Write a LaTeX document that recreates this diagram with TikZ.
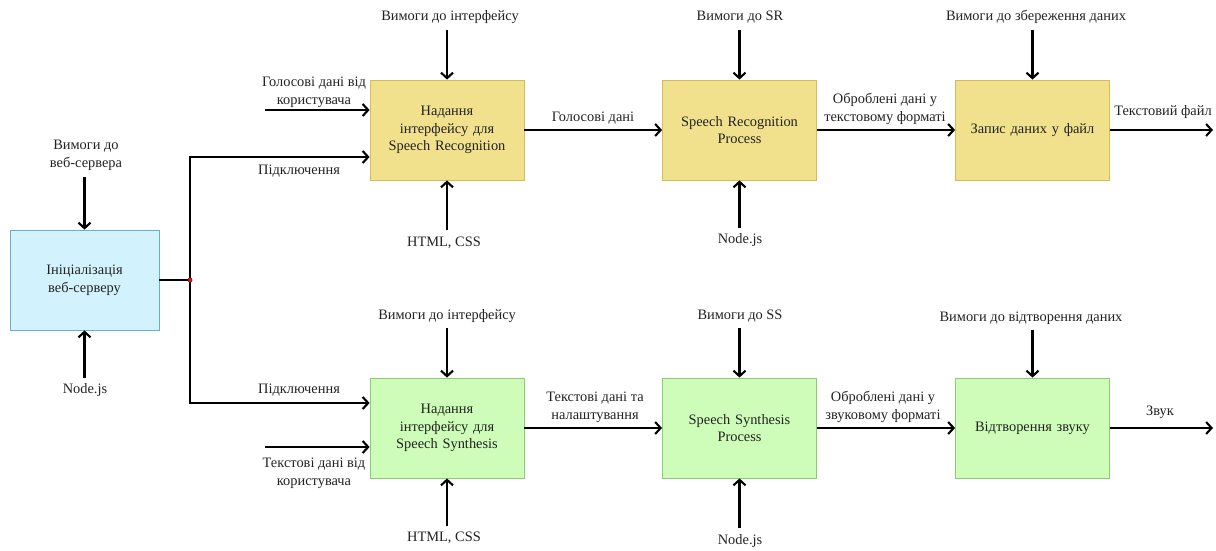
\documentclass[tikz,border=0pt]{standalone}
\usepackage{fontspec}
\setmainfont{Liberation Serif}
\usetikzlibrary{arrows.meta,calc}
\definecolor{yfill}{HTML}{F2E18C}
\definecolor{ydraw}{HTML}{D4BC5E}
\definecolor{gfill}{HTML}{CDFDB8}
\definecolor{gdraw}{HTML}{8CCB74}
\definecolor{cfill}{HTML}{D2F3FD}
\definecolor{cdraw}{HTML}{67AFCB}
\definecolor{txt}{HTML}{222222}
\definecolor{dotred}{HTML}{B02020}
\begin{document}
\begin{tikzpicture}[x=1pt,y=-1pt,
  every node/.style={font=\fontsize{14.4}{17.8}\selectfont, text=txt},
  box/.style={draw, line width=0.8pt, minimum width=154pt, minimum height=100pt, align=center, inner sep=2pt, text width=148pt},
  ybox/.style={box, fill=yfill, draw=ydraw},
  gbox/.style={box, fill=gfill, draw=gdraw},
  cbox/.style={box, fill=cfill, draw=cdraw, minimum width=149pt, text width=143pt},
  lbl/.style={align=center, inner sep=0pt},
  arr/.style={line width=2.1pt, -{Straight Barb[length=5.5pt,width=12pt,line width=2.1pt]}},
  ln/.style={line width=2.1pt}]
\useasboundingbox (0,0) rectangle (1216,550);

% boxes
\node[cbox] (init) at (84.5,280) {Ініціалізація\\веб-серверу};
\node[ybox] (sri) at (447,130) {Надання\\інтерфейсу для\\Speech Recognition};
\node[ybox] (srp) at (739.5,130) {Speech Recognition\\Process};
\node[ybox] (rec) at (1032.5,130) {Запис даних у файл};
\node[gbox] (ssi) at (447,428) {Надання\\інтерфейсу для\\Speech Synthesis};
\node[gbox] (ssp) at (739.5,428) {Speech Synthesis\\Process};
\node[gbox] (play) at (1032.5,428) {Відтворення звуку};

% init inputs
\node[lbl] (initc) at (86,155) {Вимоги до\\веб-сервера};
\coordinate (initcE) at (84.5,177);
\draw[arr] (initcE) -- (init.north);
\node[lbl] (initm) at (85,390) {Node.js};
\coordinate (initmS) at (84.5,378);
\draw[arr] (initmS) -- (init.south);

% junction
\coordinate (j) at (190,280);
\coordinate (jt) at (190,157);
\coordinate (jb) at (190,403);
\draw[ln] (init.east) -- (j);
\draw[arr] (j) -- (jt) -- (sri.west |- jt);
\draw[arr] (j) -- (jb) -- (ssi.west |- jb);
\fill[dotred] (j) circle (2.5pt);
\node[lbl] (conn1) at (299,171) {Підключення};
\node[lbl] (conn2) at (299,390) {Підключення};

% user inputs
\node[lbl] (uv) at (314,92) {Голосові дані від\\користувача};
\coordinate (uvS) at (265,110);
\draw[arr] (uvS) -- (sri.west |- uvS);
\node[lbl] (ut) at (314,473) {Текстові дані від\\користувача};
\coordinate (utS) at (265,447);
\draw[arr] (utS) -- (ssi.west |- utS);

% top row controls / mechanisms
\node[lbl] (c1) at (450,17) {Вимоги до інтерфейсу};
\coordinate (c1S) at (447,30);
\draw[arr] (c1S) -- (sri.north);
\node[lbl] (m1) at (444,243) {HTML, CSS};
\coordinate (m1S) at (447,230);
\draw[arr] (m1S) -- (sri.south);
\node[lbl] (c2) at (740,17) {Вимоги до SR};
\coordinate (c2S) at (739.5,30);
\draw[arr] (c2S) -- (srp.north);
\node[lbl] (m2) at (740,240) {Node.js};
\coordinate (m2S) at (739.5,228);
\draw[arr] (m2S) -- (srp.south);
\node[lbl] (c3) at (1036,17) {Вимоги до збереження даних};
\coordinate (c3S) at (1032.5,30);
\draw[arr] (c3S) -- (rec.north);

% top row flows
\draw[arr] (sri.east) -- (srp.west);
\node[lbl] (f1) at (593,118) {Голосові дані};
\draw[arr] (srp.east) -- (rec.west);
\node[lbl] (f2) at (885,109) {Оброблені дані у\\текстовому форматі};
\coordinate (outT) at (1213,130);
\draw[arr] (rec.east) -- (outT);
\node[lbl] (f3) at (1163,112) {Текстовий файл};

% bottom row controls / mechanisms
\node[lbl] (c4) at (447,316) {Вимоги до інтерфейсу};
\coordinate (c4S) at (447,328);
\draw[arr] (c4S) -- (ssi.north);
\node[lbl] (m4) at (444,538) {HTML, CSS};
\coordinate (m4S) at (447,526);
\draw[arr] (m4S) -- (ssi.south);
\node[lbl] (c5) at (740,316) {Вимоги до SS};
\coordinate (c5S) at (739.5,328);
\draw[arr] (c5S) -- (ssp.north);
\node[lbl] (m5) at (740,541) {Node.js};
\coordinate (m5S) at (739.5,528);
\draw[arr] (m5S) -- (ssp.south);
\node[lbl] (c6) at (1031,318) {Вимоги до відтворення даних};
\coordinate (c6S) at (1032.5,330);
\draw[arr] (c6S) -- (play.north);

% bottom row flows
\draw[arr] (ssi.east) -- (ssp.west);
\node[lbl] (f4) at (595,407) {Текстові дані та\\налаштування};
\draw[arr] (ssp.east) -- (play.west);
\node[lbl] (f5) at (883,407) {Оброблені дані у\\звуковому форматі};
\coordinate (outS) at (1213,428);
\draw[arr] (play.east) -- (outS);
\node[lbl] (f6) at (1160,412) {Звук};
\end{tikzpicture}
\end{document}
